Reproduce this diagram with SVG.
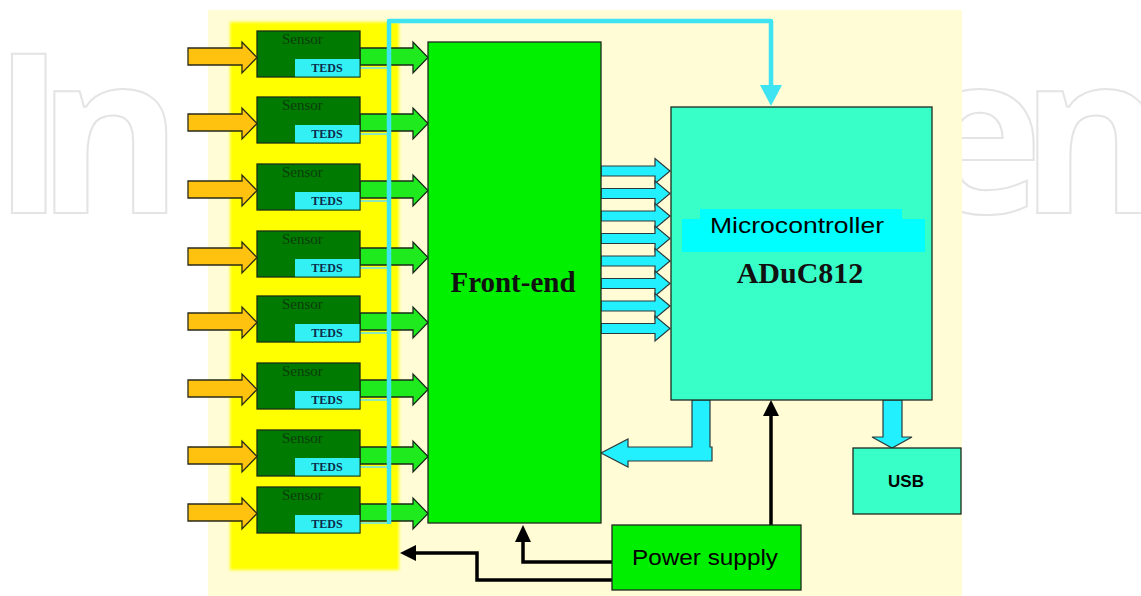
<svg xmlns="http://www.w3.org/2000/svg" xmlns:xlink="http://www.w3.org/1999/xlink" width="1141" height="596" viewBox="0 0 1141 596">
<style>
.wm{font-family:"Open Sans","DejaVu Sans",sans-serif;font-size:222px;font-weight:700;fill:none;stroke:#e4e4e4;stroke-width:2}
.box{stroke:#1e2a1e;stroke-width:1.3}
.sensor{fill:#007a00;stroke:#1a301a;stroke-width:1.3}
.teds{fill:#33f0f5;stroke:none}
.stxt{font-family:"Liberation Serif","Times New Roman",serif;font-size:15px;fill:#0c3d0c}
.ttxt{font-family:"Liberation Serif","Times New Roman",serif;font-size:12px;font-weight:bold;fill:#0d2b4a;text-anchor:middle}
.orange{fill:#ffc20e;stroke:#2a2a1a;stroke-width:1.3}
.green{fill:#1eea1e;stroke:#1a2a1a;stroke-width:1.3}
.cyanarr{fill:#22f0ff;stroke:#2a3a3a;stroke-width:1.2}
.bus{fill:none;stroke:#3ee4f2;stroke-width:4.5;stroke-linejoin:round}
.tline{stroke:#7fe8d0;stroke-width:1.8}
.blk{fill:none;stroke:#000;stroke-width:3.5}
.head{fill:#000}
.sans{font-family:"Liberation Sans",Arial,sans-serif;fill:#000;text-anchor:middle}
.serifb{font-family:"Liberation Serif","Times New Roman",serif;font-weight:bold;fill:#111;text-anchor:middle}
</style>
<defs>
<polygon id="inArrow" class="orange" points="188,17 242,17 242,11 257,26.5 242,42 242,34 188,34"/>
<polygon id="outArrow" class="green" points="360,17 413,17 413,11 428,26.5 413,42 413,34 360,34"/>
<polygon id="busArrow" class="cyanarr" points="601,0 655,0 655,-7.5 670,5 655,17.5 655,10 601,10"/>
<filter id="soft" x="-5%" y="-5%" width="110%" height="110%"><feGaussianBlur stdDeviation="1.5"/></filter>
</defs>
<rect x="0" y="0" width="1141" height="596" fill="#ffffff"/>
<text class="wm" x="-8 37" y="213">In</text>
<text class="wm" x="912 1020" y="213">en</text>
<rect x="208" y="10" width="754" height="586" fill="#fffcd6"/>
<rect x="230" y="22" width="169" height="548" fill="#ffff00" filter="url(#soft)"/>

<g id="connectors">
<use xlink:href="#inArrow" y="31"/><use xlink:href="#outArrow" y="31"/>
<use xlink:href="#inArrow" y="97"/><use xlink:href="#outArrow" y="97"/>
<use xlink:href="#inArrow" y="164"/><use xlink:href="#outArrow" y="164"/>
<use xlink:href="#inArrow" y="231"/><use xlink:href="#outArrow" y="231"/>
<use xlink:href="#inArrow" y="296"/><use xlink:href="#outArrow" y="296"/>
<use xlink:href="#inArrow" y="363"/><use xlink:href="#outArrow" y="363"/>
<use xlink:href="#inArrow" y="430"/><use xlink:href="#outArrow" y="430"/>
<use xlink:href="#inArrow" y="487"/><use xlink:href="#outArrow" y="487"/>
<line class="tline" x1="360" y1="68" x2="389" y2="68"/>
<line class="tline" x1="360" y1="134" x2="389" y2="134"/>
<line class="tline" x1="360" y1="201" x2="389" y2="201"/>
<line class="tline" x1="360" y1="268" x2="389" y2="268"/>
<line class="tline" x1="360" y1="333" x2="389" y2="333"/>
<line class="tline" x1="360" y1="400" x2="389" y2="400"/>
<line class="tline" x1="360" y1="467" x2="389" y2="467"/>
<line class="tline" x1="360" y1="523" x2="389" y2="523"/>
<path class="bus" d="M389,524 V21 H771 V88"/>
<polygon points="760,85 782,85 771,106" fill="#3ee4f2"/>
<use xlink:href="#busArrow" y="166"/>
<use xlink:href="#busArrow" y="188.5"/>
<use xlink:href="#busArrow" y="211"/>
<use xlink:href="#busArrow" y="233.5"/>
<use xlink:href="#busArrow" y="256"/>
<use xlink:href="#busArrow" y="278.5"/>
<use xlink:href="#busArrow" y="301"/>
<use xlink:href="#busArrow" y="323.5"/>
<polygon class="cyanarr" points="692,400 710,400 710,447 712,447 712,461 628,461 628,467 601,453 628,439 628,447 692,447"/>
<polygon class="cyanarr" points="883,400 902,400 902,437 912,437 892,448 872,437 883,437"/>
<line class="blk" x1="771" y1="525" x2="771" y2="413"/>
<polygon class="head" points="763,416 779,416 771,400"/>
<path class="blk" d="M612,562 H523 V540"/>
<polygon class="head" points="515,542 531,542 523,525"/>
<path class="blk" d="M612,580 H477 V553 H414"/>
<polygon class="head" points="416,545 416,561 400,553"/>
</g>

<g id="sensor1"><rect class="sensor" x="257" y="31" width="103" height="46"/><rect class="teds" x="295" y="59" width="64.5" height="17.5"/><text class="stxt" x="282" y="44">Sensor</text><text class="ttxt" x="327" y="72">TEDS</text></g>
<g id="sensor2"><rect class="sensor" x="257" y="97" width="103" height="46"/><rect class="teds" x="295" y="125" width="64.5" height="17.5"/><text class="stxt" x="282" y="110">Sensor</text><text class="ttxt" x="327" y="138">TEDS</text></g>
<g id="sensor3"><rect class="sensor" x="257" y="164" width="103" height="46"/><rect class="teds" x="295" y="192" width="64.5" height="17.5"/><text class="stxt" x="282" y="177">Sensor</text><text class="ttxt" x="327" y="205">TEDS</text></g>
<g id="sensor4"><rect class="sensor" x="257" y="231" width="103" height="46"/><rect class="teds" x="295" y="259" width="64.5" height="17.5"/><text class="stxt" x="282" y="244">Sensor</text><text class="ttxt" x="327" y="272">TEDS</text></g>
<g id="sensor5"><rect class="sensor" x="257" y="296" width="103" height="46"/><rect class="teds" x="295" y="324" width="64.5" height="17.5"/><text class="stxt" x="282" y="309">Sensor</text><text class="ttxt" x="327" y="337">TEDS</text></g>
<g id="sensor6"><rect class="sensor" x="257" y="363" width="103" height="46"/><rect class="teds" x="295" y="391" width="64.5" height="17.5"/><text class="stxt" x="282" y="376">Sensor</text><text class="ttxt" x="327" y="404">TEDS</text></g>
<g id="sensor7"><rect class="sensor" x="257" y="430" width="103" height="46"/><rect class="teds" x="295" y="458" width="64.5" height="17.5"/><text class="stxt" x="282" y="443">Sensor</text><text class="ttxt" x="327" y="471">TEDS</text></g>
<g id="sensor8"><rect class="sensor" x="257" y="487" width="103" height="46"/><rect class="teds" x="295" y="515" width="64.5" height="17.5"/><text class="stxt" x="282" y="500">Sensor</text><text class="ttxt" x="327" y="528">TEDS</text></g>

<g id="frontend"><rect class="box" x="428" y="42" width="173" height="481" fill="#00f000"/><text class="serifb" x="513" y="292" font-size="29">Front-end</text></g>

<g id="microcontroller"><rect class="box" x="671" y="107" width="261" height="293" fill="#38ffc8"/>
<rect x="700" y="209" width="202" height="12" fill="#00ffff"/><rect x="682" y="219" width="243" height="33" fill="#00ffff"/>
<text class="sans" x="797" y="233" font-size="22" textLength="174" lengthAdjust="spacingAndGlyphs">Microcontroller</text>
<text class="serifb" x="800" y="283" font-size="30">ADuC812</text></g>

<g id="usb"><rect class="box" x="853" y="448" width="108" height="66" fill="#38ffc8"/><text class="sans" x="906" y="487" font-size="17" font-weight="bold">USB</text></g>

<g id="power"><rect class="box" x="612" y="525" width="189" height="65" fill="#00ee00"/><text class="sans" x="705" y="565" font-size="22" textLength="146" lengthAdjust="spacingAndGlyphs">Power supply</text></g>
</svg>
